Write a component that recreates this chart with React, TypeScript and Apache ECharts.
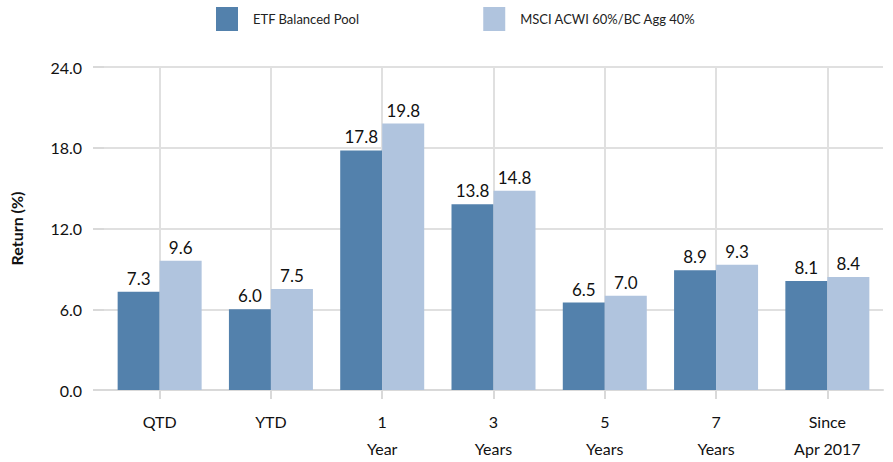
import React, { useEffect, useRef } from "react";
import * as echarts from "echarts";

const categories = ["QTD", "YTD", "1\nYear", "3\nYears", "5\nYears", "7\nYears", "Since\nApr 2017"];
const etfValues = [7.3, 6.0, 17.8, 13.8, 6.5, 8.9, 8.1];
const benchValues = [9.6, 7.5, 19.8, 14.8, 7.0, 9.3, 8.4];
const seriesNames = ["ETF Balanced Pool", "MSCI ACWI 60%/BC Agg 40%"];
const yTicks = { min: 0, max: 24, interval: 6 };

const FONT = "Lato, 'Open Sans', sans-serif";

export default function App() {
  const ref = useRef<HTMLDivElement>(null);
  useEffect(() => {
    if (!ref.current) return;
    const chart = echarts.init(ref.current, undefined, { renderer: "svg" });
    const labelCfg = {
      show: true,
      position: "top",
      distance: 5,
      fontSize: 17,
      color: "#111",
      fontFamily: FONT,
      formatter: (p: any) => Number(p.value).toFixed(1),
    };
    chart.setOption({
      animation: false,
      textStyle: { fontFamily: FONT },
      legend: {
        top: 2,
        left: 211,
        itemWidth: 22,
        itemHeight: 24,
        itemGap: 124,
        icon: "rect",
        textStyle: { fontSize: 13, color: "#222", padding: [0, 0, 0, 10], fontFamily: FONT },
        data: seriesNames,
      },
      grid: { left: 104, right: 10, top: 67, bottom: 67 },
      xAxis: {
        type: "category",
        data: categories,
        axisLine: { show: true, lineStyle: { color: "#d9d9d9", width: 2 } },
        axisTick: { show: true, alignWithLabel: true, length: 9, lineStyle: { color: "#d9d9d9", width: 2 } },
        splitLine: { show: true, alignWithLabel: true, lineStyle: { color: "#e0e0e0", width: 2 } },
        axisLabel: { fontSize: 16, color: "#111", margin: 18, lineHeight: 27, fontFamily: FONT, interval: 0 },
      },
      yAxis: {
        type: "value",
        min: yTicks.min,
        max: yTicks.max,
        interval: yTicks.interval,
        name: "Return (%)",
        nameLocation: "middle",
        nameGap: 80,
        nameTextStyle: { fontSize: 16, fontWeight: "bold", color: "#111", fontFamily: FONT },
        axisLine: { show: false },
        axisTick: { show: true, length: 11, lineStyle: { color: "#d9d9d9", width: 2 } },
        splitLine: { show: true, lineStyle: { color: "#e0e0e0", width: 2 } },
        axisLabel: {
          fontSize: 16,
          color: "#111",
          margin: 22,
          fontFamily: FONT,
          formatter: (v: number) => v.toFixed(1),
        },
      },
      series: [
        {
          name: seriesNames[0],
          type: "bar",
          data: etfValues,
          barWidth: 42,
          barGap: "0%",
          itemStyle: { color: "#5381ac" },
          label: labelCfg,
        },
        {
          name: seriesNames[1],
          type: "bar",
          data: benchValues,
          barWidth: 42,
          barGap: "0%",
          itemStyle: { color: "#b0c4de" },
          label: labelCfg,
        },
      ],
    });
    return () => chart.dispose();
  }, []);
  return <div ref={ref} style={{ width: 893, height: 462, position: "absolute", left: 0, top: 0 }} />;
}
